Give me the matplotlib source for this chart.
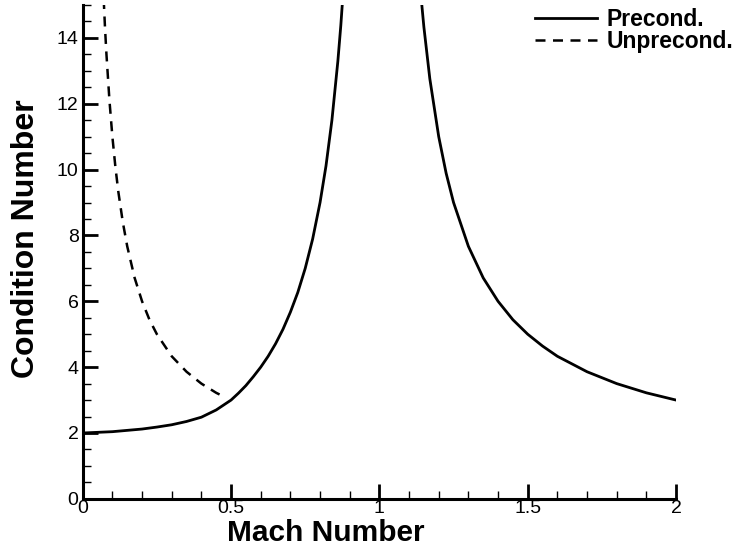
import matplotlib.pyplot as plt
from matplotlib.ticker import MultipleLocator

plt.rcParams['font.family'] = ['Liberation Sans', 'DejaVu Sans']

# Preconditioned, subsonic branch
mach_pre_lo = [0.0, 0.05, 0.1, 0.15, 0.2, 0.25, 0.3, 0.35, 0.4, 0.45, 0.475,
               0.5, 0.525, 0.55, 0.575, 0.6, 0.625, 0.65, 0.675, 0.7, 0.725,
               0.75, 0.775, 0.8, 0.82, 0.84, 0.86, 0.87, 0.88, 0.89]
cond_pre_lo = [2.0, 2.02, 2.04, 2.08, 2.12, 2.18, 2.25, 2.35, 2.48, 2.7, 2.85,
               3.0, 3.21, 3.44, 3.71, 4.0, 4.33, 4.71, 5.15, 5.67, 6.27,
               7.0, 7.89, 9.0, 10.11, 11.5, 13.29, 14.38, 15.67, 17.18]

# Preconditioned, supersonic branch
mach_pre_hi = [1.11, 1.12, 1.13, 1.14, 1.15, 1.17, 1.2, 1.225, 1.25, 1.3,
               1.35, 1.4, 1.45, 1.5, 1.55, 1.6, 1.7, 1.8, 1.9, 2.0]
cond_pre_hi = [19.2, 17.67, 16.38, 15.29, 14.33, 12.76, 11.0, 9.89, 9.0, 7.67,
               6.71, 6.0, 5.44, 5.0, 4.64, 4.33, 3.86, 3.5, 3.22, 3.0]

# Unpreconditioned
mach_unpre = [0.068, 0.075, 0.08, 0.09, 0.1, 0.11, 0.12, 0.135, 0.15, 0.175,
              0.2, 0.225, 0.25, 0.3, 0.35, 0.4, 0.45, 0.477]
cond_unpre = [15.7, 14.33, 13.5, 12.11, 11.0, 10.09, 9.33, 8.41, 7.67, 6.71,
              6.0, 5.44, 5.0, 4.33, 3.86, 3.5, 3.22, 3.1]

fig = plt.figure(figsize=(7.52, 5.5), dpi=100)
ax = fig.add_axes([0.110, 0.093, 0.789, 0.898])

ax.plot(mach_pre_lo, cond_pre_lo, color='black', lw=2, label='Precond.')
ax.plot(mach_pre_hi, cond_pre_hi, color='black', lw=2)
ax.plot(mach_unpre, cond_unpre, color='black', lw=1.8, dashes=(4, 3),
        label='Unprecond.')

ax.set_xlim(0, 2)
ax.set_ylim(0, 15)
ax.spines['top'].set_visible(False)
ax.spines['right'].set_visible(False)
ax.spines['left'].set_linewidth(2.2)
ax.spines['bottom'].set_linewidth(2.2)

ax.xaxis.set_major_locator(MultipleLocator(0.5))
ax.xaxis.set_minor_locator(MultipleLocator(0.1))
ax.yaxis.set_major_locator(MultipleLocator(2))
ax.yaxis.set_minor_locator(MultipleLocator(0.5))
ax.set_xticks([0, 0.5, 1, 1.5, 2], ['0', '0.5', '1', '1.5', '2'])
ax.tick_params(which='major', direction='in', length=11, width=2, labelsize=14)
ax.tick_params(which='minor', direction='in', length=6, width=1)
ax.tick_params(axis='x', pad=1)
ax.tick_params(axis='y', pad=3)

ax.set_xlabel('Mach Number', fontsize=21.5, fontweight='bold')
ax.set_ylabel('Condition Number', fontsize=23, fontweight='bold')
ax.xaxis.set_label_coords(0.41, -0.041)
ax.yaxis.set_label_coords(-0.07, 0.526)

ax.legend(loc='upper left', bbox_to_anchor=(0.711, 0.985),
          bbox_transform=fig.transFigure, borderaxespad=0, borderpad=0,
          frameon=False, prop={'size': 16.5, 'weight': 'bold'},
          handlelength=2.7, handletextpad=0.45, labelspacing=-0.05)

fig.savefig('out.png', dpi=100)
